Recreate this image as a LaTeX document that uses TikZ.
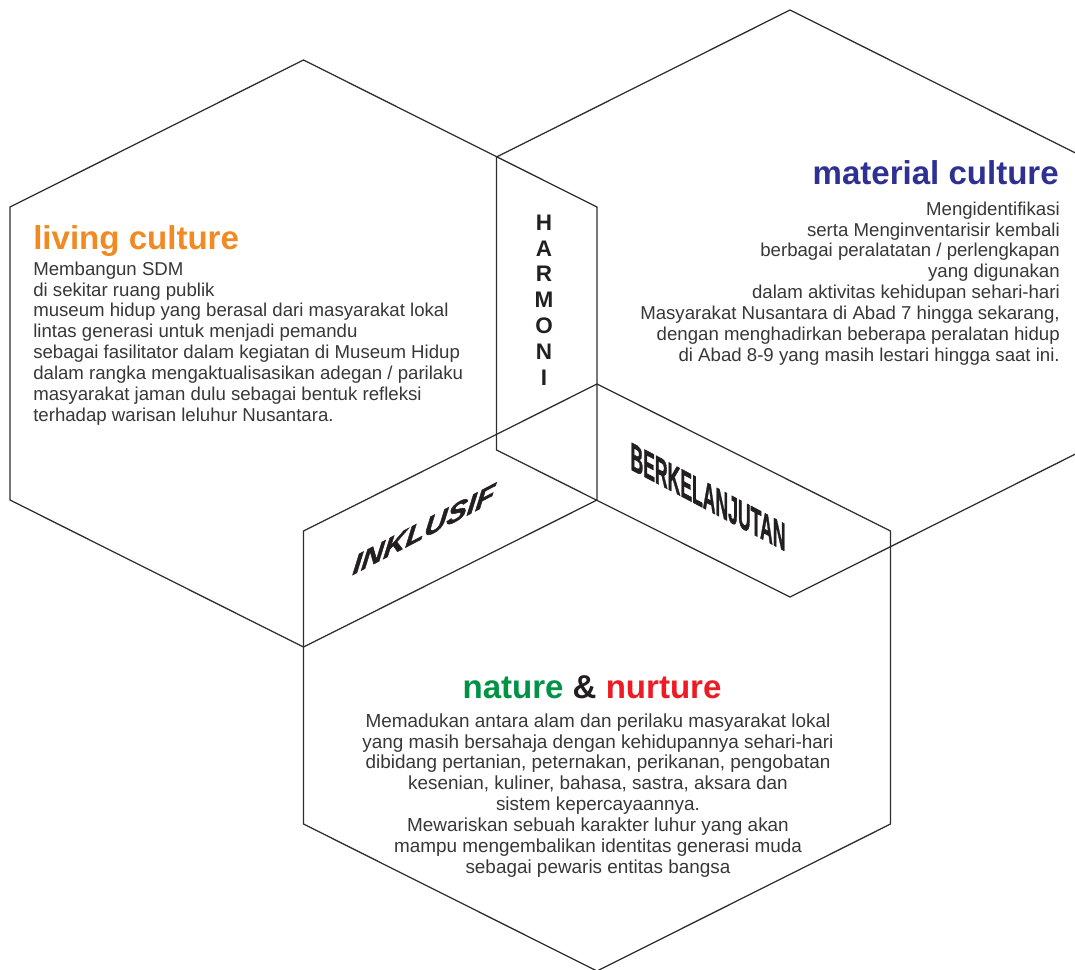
\documentclass[tikz,border=0pt]{standalone}
\usepackage{fontspec}
\setmainfont{Liberation Sans}
\newfontfamily\heavysans{Liberation Sans}[FakeBold=1.6]

\definecolor{livingorange}{RGB}{241,138,34}
\definecolor{materialblue}{RGB}{46,49,146}
\definecolor{naturegreen}{RGB}{0,146,69}
\definecolor{nurturered}{RGB}{237,28,36}
\definecolor{inkdark}{RGB}{35,31,32}
\definecolor{bodygray}{RGB}{55,55,55}
\definecolor{linegray}{RGB}{45,45,45}

\begin{document}
\begin{tikzpicture}[x=0.025cm, y=-0.025cm,
	hexline/.style={draw=linegray, line width=0.9pt, line join=miter},
	headline/.style={inner sep=0pt, font=\fontsize{23.5}{26}\selectfont\bfseries},
	bodytext/.style={inner sep=0pt, text=bodygray, font=\fontsize{13.25}{14.8}\selectfont},
	facelabel/.style={inner sep=0pt, text=inkdark}]
	 \useasboundingbox (0,0) rectangle (1075,969);
	 %
	 \draw[hexline] (303.5,60) -- (597,207) -- (597,500) -- (303.5,647) -- (10,500) -- (10,207) -- cycle;
	 \draw[hexline] (790,10) -- (1083.5,157) -- (1083.5,450) -- (790,597) -- (496.5,450) -- (496.5,157) -- cycle;
	 \draw[hexline] (597,384) -- (890.5,531) -- (890.5,824) -- (597,971) -- (303.5,824) -- (303.5,531) -- cycle;
	 %
	 \node[headline, text=livingorange, anchor=base west] (livingtitle) at (33,249) {living culture};
	 \node[bodytext, align=left, anchor=base west] (livingtext) at (33,421)
	 	{Membangun SDM\\di sekitar ruang publik\\museum hidup yang berasal dari masyarakat lokal\\lintas generasi untuk menjadi pemandu\\sebagai fasilitator dalam kegiatan di Museum Hidup\\dalam rangka mengaktualisasikan adegan / parilaku\\masyarakat jaman dulu sebagai bentuk refleksi\\terhadap warisan leluhur Nusantara.};
	 %
	 \node[headline, text=materialblue, anchor=base east] (materialtitle) at (1059,184) {material culture};
	 \node[bodytext, align=right, anchor=base east] (materialtext) at (1060,361)
	 	{Mengidentifikasi\\serta Menginventarisir kembali\\berbagai peralatatan / perlengkapan\\yang digunakan\\dalam aktivitas kehidupan sehari-hari\\Masyarakat Nusantara di Abad 7 hingga sekarang,\\dengan menghadirkan beberapa peralatan hidup\\di Abad 8-9 yang masih lestari hingga saat ini.};
	 %
	 \node[headline, anchor=base] (naturetitle) at (592,698)
	 	{\textcolor{naturegreen}{nature} \textcolor{inkdark}{\&} \textcolor{nurturered}{nurture}};
	 \node[bodytext, font=\fontsize{13.45}{14.8}\selectfont, align=center, anchor=base] (naturetext) at (598,873)
	 	{Memadukan antara alam dan perilaku masyarakat lokal\\yang masih bersahaja dengan kehidupannya sehari-hari\\dibidang pertanian, peternakan, perikanan, pengobatan\\kesenian, kuliner, bahasa, sastra, aksara dan\\sistem kepercayaannya.\\Mewariskan sebuah karakter luhur yang akan\\mampu mengembalikan identitas generasi muda\\sebagai pewaris entitas bangsa};
	 %
	 \node[facelabel, align=center, font=\fontsize{16}{18.4}\selectfont\bfseries] (harmoni) at (544,300)
	 	{H\\A\\R\\M\\O\\N\\I};
	 \node[facelabel, font=\fontsize{18.5}{18.5}\selectfont\heavysans\bfseries\itshape, yslant=0.52, xscale=1.18, xslant=0.12] (inklusif) at (424,529) {INKLUSIF};
	 \node[facelabel, font=\fontsize{12.5}{12.5}\selectfont\heavysans\bfseries, yslant=-0.53, yscale=2.25] (berkelanjutan) at (708,497) {BERKELANJUTAN};
\end{tikzpicture}
\end{document}
